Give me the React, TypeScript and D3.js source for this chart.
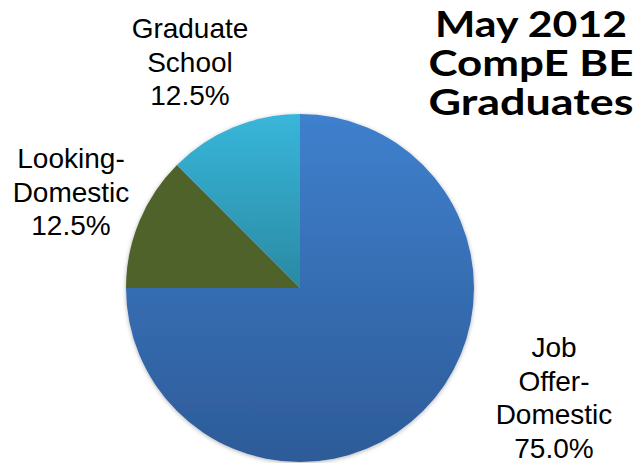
import * as d3 from "d3";
import { useEffect } from "react";

// data
const categories = ["Job Offer-Domestic", "Looking-Domestic", "Graduate School"];
const values = [75.0, 12.5, 12.5];
const labelLines = [
  ["Job", "Offer-", "Domestic", "75.0%"],
  ["Looking-", "Domestic", "12.5%"],
  ["Graduate", "School", "12.5%"],
];
const titleLines = ["May 2012", "CompE BE", "Graduates"];
const titleWidths = [192, 205, 205];

const W = 635;
const H = 463;
const cx = 300;
const cy = 288;
const R = 174;

// where each label block sits (center x, first baseline)
const labelAnchors = [
  { x: 554, y: 357 },
  { x: 71, y: 168 },
  { x: 190, y: 38 },
];
const colors = [
  ["#3f80cd", "#2d5b98"],
  ["#4f6229", "#4f6229"],
  ["#38b6da", "#2a8aa3"],
];

export default function App() {
  useEffect(() => {
    document.body.style.margin = "0";
  }, []);

  const pie = d3
    .pie<number>()
    .sort(null)
    .value((d) => d)
    .startAngle(0)
    .endAngle(2 * Math.PI);
  const arcs = pie(values);
  const arc = d3.arc<d3.PieArcDatum<number>>().innerRadius(0).outerRadius(R);

  return (
    <svg width={W} height={H} style={{ position: "absolute", left: 0, top: 0, background: "#fff" }}>
      <defs>
        {colors.map((c, i) => (
          <linearGradient
            key={i}
            id={"g" + i}
            gradientUnits="userSpaceOnUse"
            x1={0}
            y1={-R}
            x2={0}
            y2={i === 2 ? 0 : R}
          >
            <stop offset="0" stopColor={c[0]} />
            <stop offset="1" stopColor={c[1]} />
          </linearGradient>
        ))}
        <filter id="sh" x="-10%" y="-10%" width="120%" height="120%">
          <feDropShadow dx="0" dy="1" stdDeviation="2" floodColor="#000" floodOpacity="0.3" />
        </filter>
      </defs>
      <g transform={`translate(${cx},${cy})`} filter="url(#sh)">
        {arcs.map((a, i) => (
          <path key={categories[i]} d={arc(a) || ""} fill={`url(#g${i})`} />
        ))}
      </g>
      {labelLines.map((lines, i) => (
        <text
          key={i}
          fontFamily="'Liberation Sans', Arial, sans-serif"
          fontSize={28}
          textAnchor="middle"
          fill="#000"
        >
          {lines.map((l, j) => (
            <tspan key={j} x={labelAnchors[i].x} y={labelAnchors[i].y + j * 33.7}>
              {l}
            </tspan>
          ))}
        </text>
      ))}
      {titleLines.map((l, j) => (
        <text
          key={j}
          x={531}
          y={37 + j * 39}
          fontFamily="Lato, 'Open Sans', sans-serif"
          fontWeight="bold"
          fontSize={36}
          textAnchor="middle"
          textLength={titleWidths[j]}
          lengthAdjust="spacingAndGlyphs"
          fill="#000"
        >
          {l}
        </text>
      ))}
    </svg>
  );
}
